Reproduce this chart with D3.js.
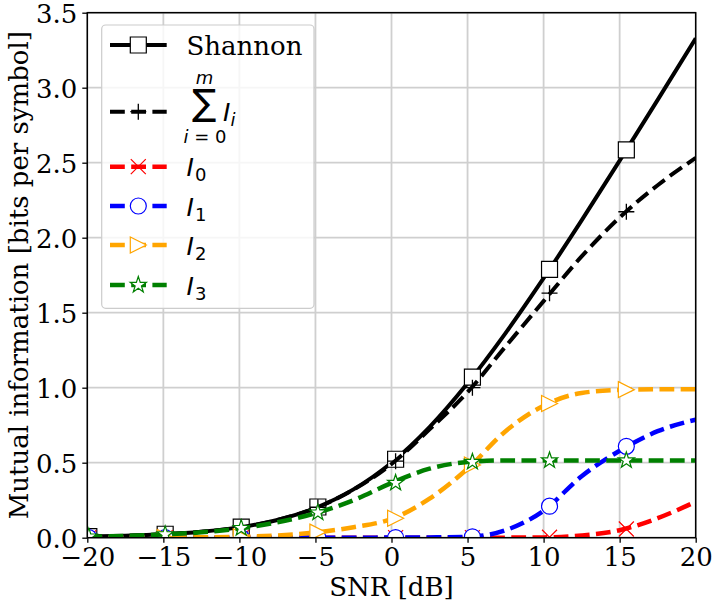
<!DOCTYPE html>
<html>
<head>
<meta charset="utf-8">
<script src="https://cdn.jsdelivr.net/npm/d3@7"></script>
<style>
body { margin: 0; background: #fff; }
svg text { fill: #000; }
</style>
</head>
<body>
<div id="chart"></div>
<script>

var snrDb = [-20, -17.5, -15, -12.5, -10, -7.5, -5, -2.5, 0, 2.5, 5, 7.5, 10, 12.5, 15, 17.5, 20];
var shannon = [0.0072, 0.0127, 0.0225, 0.0395, 0.0688, 0.118, 0.198, 0.322, 0.5, 0.737, 1.029, 1.364, 1.730, 2.115, 2.514, 2.919, 3.329];
var sumI = [0.0072, 0.0125, 0.0225, 0.039, 0.068, 0.118, 0.198, 0.32, 0.491, 0.722, 0.97, 1.275, 1.577, 1.875, 2.135, 2.35, 2.532];
var i0 = [0, 0, 0, 0, 0, 0, 0, 0, 0, 0, 0, 0.0005, 0.002, 0.015, 0.05, 0.13, 0.24];
var i1 = [0, 0, 0, 0, 0, 0, 0, 0, 0.001, 0.002, 0.005, 0.05, 0.18, 0.41, 0.58, 0.71, 0.787];
var i2 = [0, 0.0005, 0.001, 0.003, 0.006, 0.015, 0.035, 0.07, 0.125, 0.26, 0.46, 0.71, 0.88, 0.965, 0.985, 0.99, 0.99];
var i3 = [0.007, 0.012, 0.0215, 0.036, 0.062, 0.103, 0.163, 0.25, 0.365, 0.46, 0.505, 0.515, 0.515, 0.515, 0.515, 0.515, 0.515];

// markers sit a little off the grid in the original
var markerSnr = [-19.9, -14.88, -9.88, -4.84, 0.27, 5.32, 10.39, 15.44];
var shannonMk = [0.0073, 0.0231, 0.0706, 0.2047, 0.523, 1.070, 1.789, 2.585];
var sumMk = [0.0073, 0.023, 0.070, 0.203, 0.51, 1.0, 1.63, 2.173];
var i0Mk = [0, 0, 0, 0, 0, 0, 0.003, 0.058];
var i1Mk = [0, 0, 0, 0, 0.001, 0.006, 0.21, 0.609];
var i2Mk = [0, 0.001, 0.006, 0.037, 0.13, 0.485, 0.895, 0.987];
var i3Mk = [0.007, 0.022, 0.064, 0.167, 0.365, 0.505, 0.515, 0.515];

var xTicks = [-20, -15, -10, -5, 0, 5, 10, 15, 20];
var yTicks = [0, 0.5, 1.0, 1.5, 2.0, 2.5, 3.0, 3.5];

var W = 712, H = 605;
var pLeft = 87.3, pRight = 695.7, pTop = 12.7, pBottom = 537.7;

var x = d3.scaleLinear().domain([-20, 20]).range([pLeft, pRight]);
var y = d3.scaleLinear().domain([0, 3.5]).range([pBottom, pTop]);

var serif = "'DejaVu Serif', serif";
var mathFont = "'DejaVu Sans', sans-serif";

var markerPaths = {
    square: "M-8,-8H8V8H-8Z",
    plus: "M-8,0H8M0,-8V8",
    cross: "M-7.5,-7.5L7.5,7.5M-7.5,7.5L7.5,-7.5",
    circle: "M8,0A8,8 0 1,1 -8,0A8,8 0 1,1 8,0Z",
    tri: "M-8,-8L8,0L-8,8Z",
    star: starPath(8.5, 3.3)
};

function starPath(ro, ri){
    var pts = [];
    for(var k = 0; k < 10; k++){
        var r = (k % 2 == 0) ? ro : ri;
        var a = -Math.PI / 2 + k * Math.PI / 5;
        pts.push((r * Math.cos(a)).toFixed(2) + "," + (r * Math.sin(a)).toFixed(2));
    }
    return "M" + pts.join("L") + "Z";
}

var series = [
    {name: "shannon", vals: shannon, mk: shannonMk, color: "#000000", dash: null, width: 4, marker: "square", fill: "#fff", mstroke: 1.2},
    {name: "sum", vals: sumI, mk: sumMk, color: "#000000", dash: "14.8,6.4", width: 4, marker: "plus", fill: "none", mstroke: 1.3},
    {name: "i0", vals: i0, mk: i0Mk, color: "#ff0000", dash: "14.8,6.4", width: 4.5, marker: "cross", fill: "none", mstroke: 1.2},
    {name: "i1", vals: i1, mk: i1Mk, color: "#0000ff", dash: "14.8,6.4", width: 4.5, marker: "circle", fill: "#fff", mstroke: 1.2},
    {name: "i2", vals: i2, mk: i2Mk, color: "#ffa500", dash: "14.8,6.4", width: 4.5, marker: "tri", fill: "#fff", mstroke: 1.2},
    {name: "i3", vals: i3, mk: i3Mk, color: "#008000", dash: "14.8,6.4", width: 4.5, marker: "star", fill: "#fff", mstroke: 1.2}
];

var svg = d3.select("#chart").append("svg")
    .attr("width", W)
    .attr("height", H);

svg.append("defs").append("clipPath")
    .attr("id", "plotClip")
    .append("rect")
    .attr("x", pLeft)
    .attr("y", pTop)
    .attr("width", pRight - pLeft)
    .attr("height", pBottom - pTop);

// grid
var grid = svg.append("g").attr("class", "grid");
grid.selectAll("line.gx")
    .data(xTicks)
    .enter()
    .append("line")
    .attr("x1", function(d){ return x(d); })
    .attr("x2", function(d){ return x(d); })
    .attr("y1", pTop)
    .attr("y2", pBottom)
    .attr("stroke", "#cfcfcf")
    .attr("stroke-width", 1.8);
grid.selectAll("line.gy")
    .data(yTicks)
    .enter()
    .append("line")
    .attr("x1", pLeft)
    .attr("x2", pRight)
    .attr("y1", function(d){ return y(d); })
    .attr("y2", function(d){ return y(d); })
    .attr("stroke", "#cfcfcf")
    .attr("stroke-width", 1.8);

var line = d3.line()
    .x(function(d){ return x(d[0]); })
    .y(function(d){ return y(d[1]); })
    .curve(d3.curveMonotoneX);

var plot = svg.append("g").attr("clip-path", "url(#plotClip)");

series.forEach(function(s){
    var pts = snrDb.map(function(v, i){ return [v, s.vals[i]]; });
    var g = plot.append("g").attr("class", "series-" + s.name);
    g.append("path")
        .datum(pts)
        .attr("d", line)
        .attr("fill", "none")
        .attr("stroke", s.color)
        .attr("stroke-width", s.width)
        .attr("stroke-dasharray", s.dash)
        .attr("stroke-linejoin", "round");

    var mks = markerSnr.map(function(v, i){ return [v, s.mk[i]]; });
    g.selectAll("path.mk")
        .data(mks)
        .enter()
        .append("path")
        .attr("class", "mk")
        .attr("transform", function(d){ return "translate(" + x(d[0]) + "," + y(d[1]) + ")"; })
        .attr("d", markerPaths[s.marker])
        .attr("fill", s.fill)
        .attr("stroke", s.color)
        .attr("stroke-width", s.mstroke);
});

// axes
var xAxis = d3.axisBottom(x).tickValues(xTicks).tickSize(5).tickPadding(4)
    .tickFormat(function(d){ return d < 0 ? "\u2212" + Math.abs(d) : d; });
var gx = svg.append("g")
    .attr("transform", "translate(0," + pBottom + ")")
    .call(xAxis);
gx.select(".domain").remove();
gx.selectAll("text")
    .attr("font-family", serif)
    .attr("font-size", 26)
    .attr("dy", "0.76em");
gx.selectAll("line").attr("stroke", "#000").attr("stroke-width", 1.3);

var yAxis = d3.axisLeft(y).tickValues(yTicks).tickSize(5).tickPadding(5)
    .tickFormat(d3.format(".1f"));
var gy = svg.append("g")
    .attr("transform", "translate(" + pLeft + ",0)")
    .call(yAxis);
gy.select(".domain").remove();
gy.selectAll("text")
    .attr("font-family", serif)
    .attr("font-size", 26)
    .attr("dy", "0.36em");
gy.selectAll("line").attr("stroke", "#000").attr("stroke-width", 1.3);

svg.append("rect")
    .attr("x", pLeft)
    .attr("y", pTop)
    .attr("width", pRight - pLeft)
    .attr("height", pBottom - pTop)
    .attr("fill", "none")
    .attr("stroke", "#000")
    .attr("stroke-width", 1.5);

svg.append("text")
    .attr("x", (pLeft + pRight) / 2)
    .attr("y", 596)
    .attr("text-anchor", "middle")
    .attr("font-family", serif)
    .attr("font-size", 26)
    .text("SNR [dB]");

svg.append("text")
    .attr("transform", "translate(27.5," + ((pTop + pBottom) / 2) + ") rotate(-90)")
    .attr("text-anchor", "middle")
    .attr("font-family", serif)
    .attr("font-size", 26)
    .text("Mutual information [bits per symbol]");

// legend
var leg = svg.append("g").attr("class", "legend");
leg.append("rect")
    .attr("x", 101.7)
    .attr("y", 25)
    .attr("width", 212.3)
    .attr("height", 283.3)
    .attr("rx", 4)
    .attr("fill", "#fff")
    .attr("fill-opacity", 0.8)
    .attr("stroke", "#cccccc")
    .attr("stroke-width", 1.2);

var legY = [45, 111.7, 166.7, 206, 245, 285];
series.forEach(function(s, i){
    var ly = legY[i];
    leg.append("line")
        .attr("x1", 110)
        .attr("x2", 166.7)
        .attr("y1", ly)
        .attr("y2", ly)
        .attr("stroke", s.color)
        .attr("stroke-width", s.width)
        .attr("stroke-dasharray", s.dash);
    leg.append("path")
        .attr("transform", "translate(138.3," + ly + ")")
        .attr("d", markerPaths[s.marker])
        .attr("fill", s.fill)
        .attr("stroke", s.color)
        .attr("stroke-width", s.mstroke);
});

leg.append("text")
    .attr("x", 186.5)
    .attr("y", 54.5)
    .attr("font-family", serif)
    .attr("font-size", 26)
    .text("Shannon");

// sum label
leg.append("text")
    .attr("x", 204.5)
    .attr("y", 83.5)
    .attr("text-anchor", "middle")
    .attr("font-family", mathFont)
    .attr("font-style", "italic")
    .attr("font-size", 18)
    .text("m");
leg.append("text")
    .attr("x", 204.5)
    .attr("y", 115)
    .attr("text-anchor", "middle")
    .attr("font-family", mathFont)
    .attr("font-size", 36)
    .text("\u2211");
var sub = leg.append("text")
    .attr("x", 205)
    .attr("y", 142.5)
    .attr("text-anchor", "middle")
    .attr("font-family", mathFont)
    .attr("font-size", 18);
sub.append("tspan").attr("font-style", "italic").text("i");
sub.append("tspan").text(" = 0");
var ii = leg.append("text")
    .attr("x", 223)
    .attr("y", 121)
    .attr("font-family", mathFont)
    .attr("font-size", 25);
ii.append("tspan").attr("font-style", "italic").text("I");
ii.append("tspan").attr("font-style", "italic").attr("font-size", 18).attr("dy", 5).text("i");

var subs = ["0", "1", "2", "3"];
subs.forEach(function(t, k){
    var ly = legY[k + 2];
    var tx = leg.append("text")
        .attr("x", 186.5)
        .attr("y", ly + 9.5)
        .attr("font-family", mathFont)
        .attr("font-size", 25);
    tx.append("tspan").attr("font-style", "italic").text("I");
    tx.append("tspan").attr("font-size", 18).attr("dy", 5).attr("dx", 1).text(t);
});

</script>
</body>
</html>
